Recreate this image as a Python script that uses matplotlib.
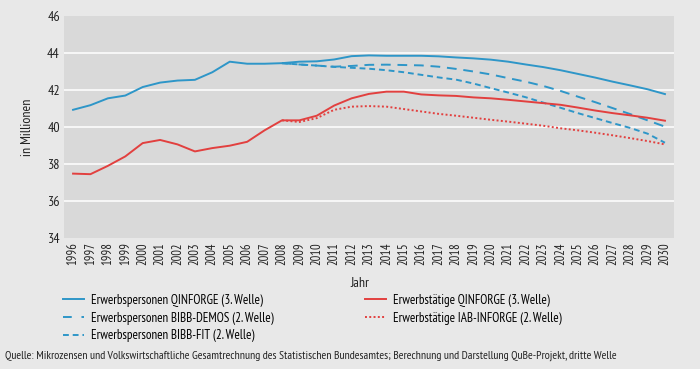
import matplotlib
matplotlib.use("Agg")
import matplotlib.pyplot as plt
from matplotlib.lines import Line2D
import matplotlib.font_manager as fm

names = {f.name for f in fm.fontManager.ttflist}
fam = "DejaVu Sans"
for cand in ["PT Sans Narrow", "Roboto Condensed", "Archivo Narrow", "Asap Condensed",
             "Barlow Condensed", "Liberation Sans Narrow"]:
    if cand in names:
        fam = cand
        break
plt.rcParams['font.family'] = [fam, 'DejaVu Sans']

years = list(range(1996, 2031))
proj_years = list(range(2008, 2031))

ep_qinforge = [40.93, 41.18, 41.55, 41.70, 42.16, 42.40, 42.51, 42.55, 42.96, 43.53,
               43.42, 43.42, 43.45, 43.53, 43.55, 43.65, 43.83, 43.87, 43.85, 43.85,
               43.85, 43.82, 43.76, 43.71, 43.64, 43.53, 43.38, 43.24, 43.07, 42.87,
               42.67, 42.45, 42.25, 42.04, 41.78]
et_qinforge = [37.48, 37.45, 37.90, 38.41, 39.13, 39.30, 39.06, 38.68, 38.86, 38.99,
               39.20, 39.82, 40.36, 40.36, 40.61, 41.16, 41.55, 41.79, 41.91, 41.91,
               41.76, 41.71, 41.68, 41.60, 41.55, 41.47, 41.38, 41.29, 41.20, 41.05,
               40.89, 40.75, 40.63, 40.50, 40.34]
ep_demos = [43.45, 43.38, 43.32, 43.26, 43.30, 43.36, 43.37, 43.35, 43.33, 43.26,
            43.14, 43.00, 42.84, 42.64, 42.45, 42.22, 41.95, 41.64, 41.34, 41.02,
            40.70, 40.36, 40.02]
ep_fit = [43.45, 43.38, 43.32, 43.25, 43.20, 43.15, 43.07, 42.96, 42.82, 42.68,
          42.56, 42.35, 42.10, 41.86, 41.61, 41.32, 41.04, 40.75, 40.48, 40.21,
          39.95, 39.64, 39.15]
et_iab = [40.36, 40.27, 40.48, 40.93, 41.10, 41.13, 41.10, 40.97, 40.84, 40.71,
          40.61, 40.50, 40.39, 40.29, 40.18, 40.07, 39.93, 39.82, 39.69, 39.55,
          39.40, 39.24, 39.06]

labels = ["Erwerbspersonen QINFORGE (3. Welle)",
          "Erwerbspersonen BIBB-DEMOS (2. Welle)",
          "Erwerbspersonen BIBB-FIT (2. Welle)",
          "Erwerbstätige QINFORGE (3. Welle)",
          "Erwerbstätige IAB-INFORGE (2. Welle)"]

blue = "#2e96c8"
red = "#e2403f"
txtc = "#222222"

fig = plt.figure(figsize=(7.0, 3.69), dpi=100, facecolor="#e8e8e8")
ax = fig.add_axes([64/700, 1-238/369, 610/700, 222/369])
ax.set_facecolor("#d9d9d9")

lw = 1.4
ax.plot(years, ep_qinforge, color=blue, lw=lw)
ax.plot(proj_years, ep_demos, color=blue, lw=lw, linestyle=(0, (5, 3.5)))
ax.plot(proj_years, ep_fit, color=blue, lw=lw, linestyle=(0, (3, 2)))
ax.plot(years, et_qinforge, color=red, lw=lw)
ax.plot(proj_years, et_iab, color=red, lw=lw, linestyle=(0, (1, 1.2)))

ax.set_xlim(1995.48, 2030.52)
ax.set_ylim(34, 46)
ax.set_yticks([34, 36, 38, 40, 42, 44, 46])
ax.set_xticks(years)
ax.set_xticklabels([str(y) for y in years], rotation=90, fontsize=9, color=txtc)
ax.tick_params(axis='y', labelsize=10, colors=txtc)
ax.tick_params(length=0, pad=3)
for v in [36, 38, 40, 42, 44]:
    ax.axhline(v, color="white", lw=1.1, zorder=0.5)
for s in ax.spines.values():
    s.set_visible(False)
ax.set_xlabel("Jahr", fontsize=10, color=txtc)
ax.xaxis.set_label_coords((360-64)/610, -(277-238)/222)
ax.set_ylabel("in Millionen", fontsize=10, color=txtc)
ax.yaxis.set_label_coords(-(64-34)/610, 0.5)

h1 = [Line2D([], [], color=blue, lw=lw),
      Line2D([], [], color=blue, lw=lw, linestyle=(0, (4.5, 5))),
      Line2D([], [], color=blue, lw=lw, linestyle=(0, (3, 2)))]
h2 = [Line2D([], [], color=red, lw=lw),
      Line2D([], [], color=red, lw=lw, linestyle=(0, (1, 1.2)))]
leg_kw = dict(frameon=False, fontsize=9.4, handlelength=1.6, handletextpad=0.55,
              labelspacing=0.36, borderaxespad=0, borderpad=0)
fig.legend(h1, labels[:3], loc="upper left", bbox_to_anchor=(63/700, 1-294/369), **leg_kw)
fig.legend(h2, labels[3:], loc="upper left", bbox_to_anchor=(365/700, 1-294/369), **leg_kw)

fig.text(5/700, 1-356/369, "Quelle: Mikrozensen und Volkswirtschaftliche Gesamtrechnung des Statistischen Bundesamtes; "
         "Berechnung und Darstellung QuBe-Projekt, dritte Welle",
         fontsize=8.5, color=txtc, va="center", ha="left")

fig.savefig("out.png", dpi=100, facecolor=fig.get_facecolor())
